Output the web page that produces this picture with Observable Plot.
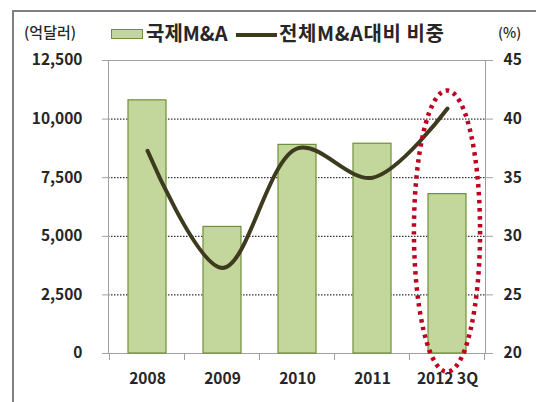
<!DOCTYPE html>
<html><head><meta charset="utf-8">
<script src="https://cdn.jsdelivr.net/npm/d3@7"></script>
<script src="https://cdn.jsdelivr.net/npm/@observablehq/plot@0.6"></script>
<style>
body{margin:0;background:#fff;}
#wrap{position:relative;width:536px;height:402px;overflow:hidden;font-family:"Noto Sans CJK KR","Noto Sans",sans-serif;color:#262626;}
#border{position:absolute;left:12px;top:10px;width:700px;height:600px;border:2px solid #808080;box-sizing:border-box;}
#chart{position:absolute;left:0;top:0;}
.lg{position:absolute;white-space:nowrap;line-height:1;}
</style></head>
<body>
<div id="wrap">
  <div id="border"></div>
  <div id="chart"></div>
  <div class="lg" id="unitL" style="left:24px;top:24px;font-size:15px;font-weight:500;"></div>
  <div class="lg" style="left:111px;top:29px;width:32px;height:10px;background:#c3d69b;border:1px solid #6f8f3a;box-sizing:border-box;"></div>
  <div class="lg" id="name0" style="left:146px;top:23px;font-size:20px;font-weight:bold;"></div>
  <div class="lg" style="left:236px;top:33px;width:41px;height:4px;background:#3d3a1e;"></div>
  <div class="lg" id="name1" style="left:279px;top:23px;font-size:20px;font-weight:bold;letter-spacing:0.6px;"></div>
  <div class="lg" id="unitR" style="left:498px;top:25px;font-size:14px;font-weight:500;"></div>
</div>
<script>
const categories = ["2008", "2009", "2010", "2011", "2012 3Q"];
const dealValues = [10800, 5400, 8900, 8950, 6800];      // 국제M&A (억달러)
const sharePct = [37.3, 27.3, 37.5, 35.0, 40.9];          // 전체M&A대비 비중 (%)
const leftTicks = [0, 2500, 5000, 7500, 10000, 12500];
const rightTicks = [20, 25, 30, 35, 40, 45];
const seriesNames = ["국제M&A", "전체M&A대비 비중"];
const unitLeft = "(억달러)";
const unitRight = "(%)";
const highlight = "2012 3Q";
const highlightExtent = [-800, 11200]; // vertical extent of the highlight ellipse in left-axis units

document.getElementById("unitL").textContent = unitLeft;
document.getElementById("unitR").textContent = unitRight;
document.getElementById("name0").textContent = seriesNames[0];
document.getElementById("name1").textContent = seriesNames[1];

const leftMax = leftTicks[leftTicks.length - 1];
const pMin = rightTicks[0], pMax = rightTicks[rightTicks.length - 1];
const pctToLeft = p => (p - pMin) / (pMax - pMin) * leftMax;

const rows = categories.map((c, i) => ({cat: c, value: dealValues[i], share: sharePct[i]}));

function extras(index, scales) {
  const x = scales.x, y = scales.y;
  const g = d3.create("svg:g");
  const step = x.step(), bw = x.bandwidth();
  const y0 = y(0);
  const bounds = categories.map(c => x(c) - (step - bw) / 2);
  bounds.push(bounds[bounds.length - 1] + step);
  g.selectAll("line").data(bounds).join("line")
    .attr("x1", d => d).attr("x2", d => d)
    .attr("y1", y0).attr("y2", y0 + 7)
    .attr("stroke", "#a0a0a0").attr("stroke-width", 1);
  const cx = x(highlight) + bw / 2;
  const yt = y(highlightExtent[1]), yb = y(highlightExtent[0]);
  g.append("ellipse")
    .attr("cx", cx).attr("cy", (yt + yb) / 2)
    .attr("rx", bw * 0.87).attr("ry", (yb - yt) / 2)
    .attr("fill", "none").attr("stroke", "#c00020")
    .attr("stroke-width", 4.5).attr("stroke-dasharray", "3.5,4.5");
  return g.node();
}

const font = '"Noto Sans CJK KR","Noto Sans",sans-serif';
const chart = Plot.plot({
  width: 536, height: 402,
  marginLeft: 108, marginRight: 51, marginTop: 60, marginBottom: 49,
  style: {fontFamily: font, fontSize: "15.5px", fontWeight: "bold", color: "#262626", background: "transparent", overflow: "visible"},
  x: {domain: categories, paddingInner: 0.5, paddingOuter: 0.25, axis: null},
  y: {domain: [0, leftMax], axis: null},
  marks: [
    Plot.ruleY(leftTicks.slice(1), {stroke: "#000", strokeDasharray: "1.5,1.5", strokeWidth: 1}),
    Plot.frame({stroke: "#a0a0a0"}),
    Plot.barY(rows, {x: "cat", y: "value", fill: "#c3d69b", stroke: "#6f8f3a", strokeWidth: 1.2}),
    Plot.line(rows, {x: "cat", y: d => pctToLeft(d.share), curve: "catmull-rom", stroke: "#3d3a1e", strokeWidth: 4}),
    Plot.axisY({ticks: leftTicks, anchor: "left", tickFormat: () => "", tickSize: 6, stroke: "#a0a0a0", label: null}),
    Plot.axisY({ticks: rightTicks.map(pctToLeft), anchor: "right", tickFormat: () => "", tickSize: 7, stroke: "#a0a0a0", label: null}),
    Plot.text(leftTicks, {y: d => d, frameAnchor: "left", dx: -26, textAnchor: "end", text: d => d3.format(",")(d), fill: "#262626", fontSize: 15.5, fontWeight: "bold"}),
    Plot.text(rightTicks, {y: d => pctToLeft(d), frameAnchor: "right", dx: 18, textAnchor: "start", text: d => String(d), fill: "#262626", fontSize: 15.5, fontWeight: "bold"}),
    Plot.axisX({anchor: "bottom", tickSize: 0, tickPadding: 19, fill: "#262626", fontSize: 15.5, label: null}),
    extras
  ]
});
document.getElementById("chart").appendChild(chart);
</script>
</body></html>
